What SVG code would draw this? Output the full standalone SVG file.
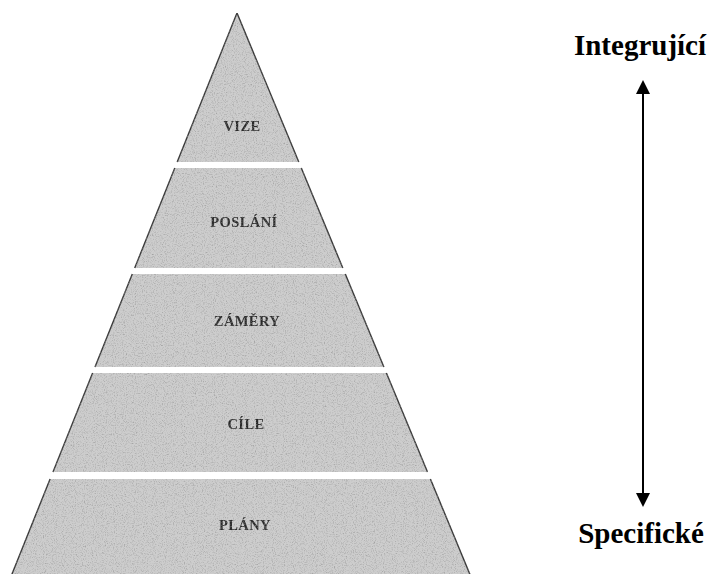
<svg xmlns="http://www.w3.org/2000/svg" width="712" height="574" viewBox="0 0 712 574">
  <style>
    .band { fill: #cdcdcd; }
    .side { stroke: #3a3a3a; stroke-width: 1.4; fill: none; }
    .lbl { font-family: "Liberation Serif", "Times New Roman", serif; font-weight: bold; font-size: 14.5px; fill: #2b2b2b; text-anchor: middle; letter-spacing: 0.4px; }
    .axis { font-family: "Liberation Serif", "Times New Roman", serif; font-weight: bold; font-size: 29px; fill: #000; text-anchor: middle; }
    .arrow { stroke: #000; stroke-width: 2; fill: none; }
  </style>
  <defs>
    <!-- speckled print texture for the pyramid tiers -->
    <filter id="grain" x="0" y="0" width="100%" height="100%">
      <feTurbulence type="fractalNoise" baseFrequency="0.9" numOctaves="2" seed="4" result="noise"/>
      <feColorMatrix in="noise" type="matrix" values="0 0 0 0 0.25  0 0 0 0 0.25  0 0 0 0 0.25  1.6 0 0 0 -0.75" result="dots"/>
      <feComposite in="dots" in2="SourceAlpha" operator="in" result="clipped"/>
      <feMerge>
        <feMergeNode in="SourceGraphic"/>
        <feMergeNode in="clipped"/>
      </feMerge>
    </filter>
    <marker id="head" viewBox="0 0 14 14" refX="0" refY="7" markerWidth="14" markerHeight="14" markerUnits="userSpaceOnUse" orient="auto-start-reverse">
      <path d="M0,0 L14,7 L0,14 z" fill="#000"/>
    </marker>
  </defs>

  <rect width="712" height="574" fill="#fff"/>

  <g filter="url(#grain)">
    <g id="vize">
      <polygon class="band" points="237,13 177.2,162 298.8,162"/>
      <path class="side" d="M237,13 L177.2,162 M237,13 L298.8,162"/>
      <text class="lbl" x="242" y="131">VIZE</text>
    </g>
    <g id="poslani">
      <polygon class="band" points="174.8,168 301.3,168 342.8,268 134.7,268"/>
      <path class="side" d="M174.8,168 L134.7,268 M301.3,168 L342.8,268"/>
      <text class="lbl" x="244" y="227">POSLÁNÍ</text>
    </g>
    <g id="zamery">
      <polygon class="band" points="132.3,274 345.3,274 383.9,367 95,367"/>
      <path class="side" d="M132.3,274 L95,367 M345.3,274 L383.9,367"/>
      <text class="lbl" x="247" y="326">ZÁMĚRY</text>
    </g>
    <g id="cile">
      <polygon class="band" points="92.6,373 386.4,373 427.5,472 53,472"/>
      <path class="side" d="M92.6,373 L53,472 M386.4,373 L427.5,472"/>
      <text class="lbl" x="246" y="429">CÍLE</text>
    </g>
    <g id="plany">
      <polygon class="band" points="50.1,479 430.4,479 470.6,576 11.2,576"/>
      <path class="side" d="M50.1,479 L11.2,576 M430.4,479 L470.6,576"/>
      <text class="lbl" x="245" y="530">PLÁNY</text>
    </g>
  </g>

  <g id="integrujici">
    <text class="axis" x="640" y="55">Integrující</text>
  </g>
  <g id="specificke">
    <text class="axis" x="641" y="543">Specifické</text>
  </g>

  <g id="connectors">
    <line class="arrow" x1="643" y1="94" x2="643" y2="493" marker-start="url(#head)" marker-end="url(#head)"/>
  </g>
</svg>
